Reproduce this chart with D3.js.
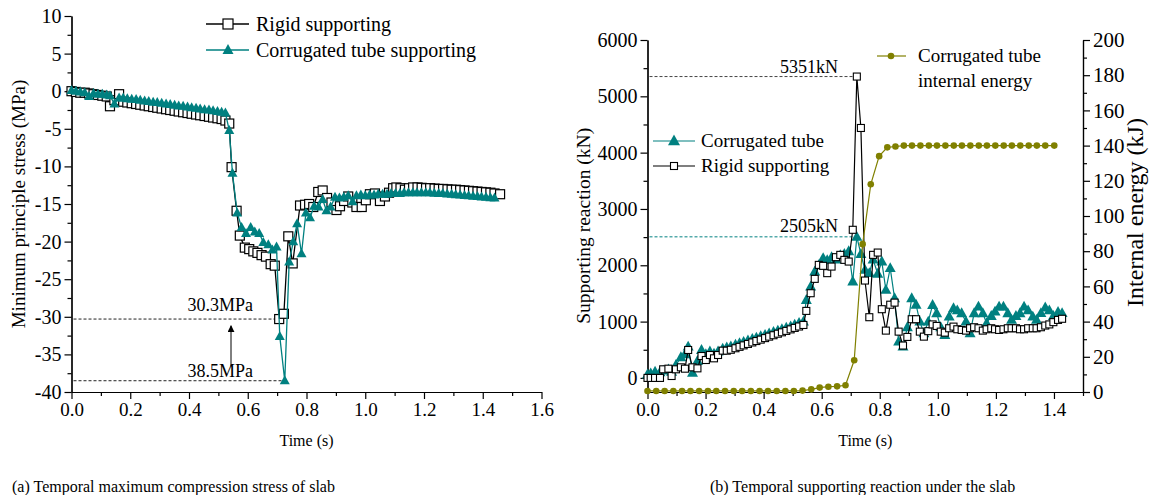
<!DOCTYPE html>
<html>
<head>
<meta charset="utf-8">
<script src="https://cdn.jsdelivr.net/npm/d3@7"></script>
<style>
  html, body { margin: 0; padding: 0; background: #fff; }
  svg { display: block; font-family: "Liberation Serif", "Times New Roman", serif; }
</style>
</head>
<body>
<svg id="chart" width="1150" height="495"></svg>
<script>
// ---------- (a) minimum principal stress of the slab (MPa) ----------
const stressRigidTime = [0, 0.015, 0.03, 0.045, 0.06, 0.075, 0.09, 0.105, 0.12, 0.131, 0.146, 0.162, 0.176, 0.19, 0.205, 0.22, 0.234, 0.249, 0.263, 0.278, 0.292, 0.307, 0.322, 0.336, 0.351, 0.365, 0.38, 0.395, 0.409, 0.424, 0.438, 0.453, 0.468, 0.482, 0.497, 0.511, 0.524, 0.537, 0.545, 0.562, 0.573, 0.59, 0.605, 0.619, 0.633, 0.647, 0.662, 0.678, 0.692, 0.707, 0.723, 0.738, 0.753, 0.778, 0.795, 0.809, 0.823, 0.84, 0.855, 0.87, 0.885, 0.902, 0.914, 0.928, 0.942, 0.956, 0.97, 0.988, 1.002, 1.016, 1.033, 1.05, 1.067, 1.081, 1.095, 1.106, 1.12, 1.135, 1.149, 1.163, 1.178, 1.192, 1.207, 1.221, 1.236, 1.25, 1.265, 1.28, 1.294, 1.309, 1.323, 1.338, 1.353, 1.367, 1.382, 1.396, 1.411, 1.426, 1.44, 1.459];
const stressRigid = [0.0, -0.1, -0.2, -0.2, -0.3, -0.4, -0.5, -0.6, -0.7, -2.0, -1.2, -0.4, -1.4, -1.5, -1.6, -1.7, -1.8, -1.9, -2.0, -2.1, -2.2, -2.3, -2.4, -2.5, -2.6, -2.7, -2.8, -2.9, -3.0, -3.1, -3.2, -3.3, -3.4, -3.5, -3.6, -3.7, -3.9, -4.3, -10.1, -15.9, -19.2, -20.8, -21.0, -21.3, -21.5, -21.8, -22.0, -23.0, -23.2, -30.3, -29.6, -19.3, -22.9, -15.2, -15.1, -15.0, -15.4, -13.4, -13.2, -14.2, -14.8, -15.8, -15.3, -14.6, -14.0, -14.8, -15.4, -15.4, -14.5, -13.7, -13.6, -14.6, -14.0, -13.5, -12.9, -12.8, -12.9, -13.1, -12.9, -12.8, -12.8, -12.85, -12.9, -12.9, -12.95, -13.0, -13.0, -13.05, -13.1, -13.1, -13.15, -13.2, -13.25, -13.3, -13.35, -13.4, -13.45, -13.5, -13.6, -13.7];

const stressTubeTime = [0, 0.015, 0.03, 0.045, 0.06, 0.075, 0.09, 0.105, 0.12, 0.131, 0.146, 0.162, 0.176, 0.19, 0.205, 0.22, 0.234, 0.249, 0.263, 0.278, 0.292, 0.307, 0.322, 0.336, 0.351, 0.365, 0.38, 0.395, 0.409, 0.424, 0.438, 0.453, 0.468, 0.482, 0.497, 0.511, 0.524, 0.537, 0.548, 0.564, 0.579, 0.594, 0.61, 0.624, 0.639, 0.653, 0.67, 0.684, 0.698, 0.709, 0.726, 0.741, 0.755, 0.768, 0.783, 0.798, 0.812, 0.826, 0.841, 0.855, 0.868, 0.882, 0.897, 0.912, 0.927, 0.942, 0.957, 0.97, 0.985, 1.0, 1.015, 1.03, 1.044, 1.059, 1.074, 1.088, 1.103, 1.118, 1.132, 1.147, 1.162, 1.176, 1.191, 1.206, 1.22, 1.235, 1.25, 1.264, 1.279, 1.294, 1.308, 1.323, 1.338, 1.352, 1.367, 1.382, 1.396, 1.411, 1.426, 1.44];
const stressTube = [0.1, 0.0, -0.1, -0.2, -0.7, -0.3, -0.4, -0.4, -0.5, -0.6, -1.7, -0.9, -0.9, -1.0, -1.05, -1.1, -1.2, -1.3, -1.35, -1.45, -1.5, -1.6, -1.7, -1.75, -1.85, -1.95, -2.0, -2.1, -2.2, -2.25, -2.35, -2.45, -2.5, -2.6, -2.7, -2.8, -2.9, -5.2, -10.9, -16.2, -18.1, -18.9, -18.1, -18.7, -18.9, -20.1, -20.4, -21.1, -20.7, -32.6, -38.5, -22.7, -20.0, -17.6, -21.6, -16.2, -16.8, -15.3, -15.4, -14.4, -15.9, -15.4, -14.1, -14.2, -14.1, -13.9, -14.7, -13.9, -13.8, -13.9, -13.8, -13.8, -13.7, -13.7, -13.7, -13.6, -13.6, -13.6, -13.5, -13.5, -13.5, -13.5, -13.5, -13.5, -13.5, -13.55, -13.6, -13.6, -13.65, -13.7, -13.75, -13.8, -13.85, -13.9, -13.95, -14.0, -14.05, -14.1, -14.15, -14.2];

const stressTicks = [-40, -35, -30, -25, -20, -15, -10, -5, 0, 5, 10];
const timeTicksA = [0, 0.2, 0.4, 0.6, 0.8, 1.0, 1.2, 1.4, 1.6];

// ---------- (b) supporting reaction (kN) and tube internal energy (kJ) ----------
const reactionTime = [0, 0.011, 0.026, 0.043, 0.054, 0.072, 0.083, 0.098, 0.115, 0.129, 0.14, 0.155, 0.172, 0.186, 0.201, 0.215, 0.229, 0.243, 0.259, 0.273, 0.287, 0.303, 0.317, 0.331, 0.346, 0.361, 0.375, 0.39, 0.405, 0.419, 0.434, 0.449, 0.463, 0.478, 0.493, 0.507, 0.522, 0.537, 0.547, 0.562, 0.576, 0.59, 0.605, 0.619, 0.634, 0.649, 0.664, 0.678, 0.693, 0.707, 0.721, 0.735, 0.749, 0.764, 0.777, 0.793, 0.807, 0.821, 0.836, 0.851, 0.865, 0.88, 0.895, 0.91, 0.925, 0.938, 0.952, 0.967, 0.982, 0.996, 1.01, 1.024, 1.039, 1.054, 1.067, 1.082, 1.097, 1.111, 1.125, 1.14, 1.155, 1.168, 1.184, 1.197, 1.211, 1.226, 1.241, 1.254, 1.269, 1.283, 1.297, 1.311, 1.327, 1.34, 1.355, 1.37, 1.384, 1.398, 1.414, 1.428];
const reactionRigid = [0, 0, 0, 0, 153, 164, 34, 153, 188, 164, 496, 188, 170, 389, 318, 407, 348, 407, 484, 484, 500, 527, 552, 578, 603, 630, 655, 680, 707, 733, 758, 785, 810, 835, 862, 888, 913, 940, 1190, 1504, 1759, 2007, 1990, 1860, 1977, 2144, 2185, 2096, 2066, 2630, 5351, 4438, 1729, 1078, 2185, 2226, 1220, 840, 1300, 1337, 822, 575, 728, 1042, 1042, 822, 733, 830, 950, 923, 822, 804, 882, 911, 864, 852, 840, 882, 900, 882, 840, 864, 882, 864, 852, 864, 882, 882, 882, 864, 864, 882, 882, 882, 900, 930, 950, 990, 1030, 1050];
const reactionTube = [60, 80, 110, 100, 130, 150, 110, 230, 366, 420, 555, 93, 300, 496, 420, 470, 430, 470, 520, 540, 560, 590, 615, 640, 665, 690, 715, 740, 765, 790, 815, 840, 865, 890, 915, 945, 975, 1000, 1385, 1622, 1888, 2000, 2127, 2090, 2144, 2100, 2180, 2200, 2250, 1711, 2505, 2200, 1919, 1860, 2100, 1850, 2066, 1563, 1949, 1415, 644, 555, 900, 1415, 1300, 1000, 793, 1000, 1296, 1148, 900, 763, 1089, 1237, 1200, 1148, 999, 793, 1148, 1266, 1148, 971, 1100, 1177, 1266, 1266, 1148, 1030, 1100, 1148, 1266, 1200, 1089, 1030, 1150, 1250, 1200, 1100, 1170, 1150];

const energyTime = [0, 0.03, 0.059, 0.089, 0.119, 0.148, 0.178, 0.208, 0.237, 0.267, 0.297, 0.326, 0.356, 0.386, 0.415, 0.445, 0.475, 0.504, 0.534, 0.564, 0.593, 0.623, 0.653, 0.682, 0.712, 0.741, 0.769, 0.798, 0.826, 0.854, 0.883, 0.911, 0.94, 0.969, 0.997, 1.026, 1.055, 1.083, 1.112, 1.141, 1.169, 1.198, 1.227, 1.255, 1.284, 1.313, 1.341, 1.37, 1.401];
const energyTube = [0.6, 0.6, 0.6, 0.6, 0.6, 0.6, 0.6, 0.6, 0.6, 0.6, 0.6, 0.6, 0.6, 0.6, 0.6, 0.6, 0.6, 0.6, 0.8, 1.5, 2.5, 3.0, 3.2, 3.8, 18, 84, 118, 134, 139, 139.5, 140, 140, 140, 140, 140, 140, 140, 140, 140, 140, 140, 140, 140, 140, 140, 140, 140, 140, 140];

const reactionTicks = [0, 1000, 2000, 3000, 4000, 5000, 6000];
const energyTicks = [0, 20, 40, 60, 80, 100, 120, 140, 160, 180, 200];
const timeTicksB = [0, 0.2, 0.4, 0.6, 0.8, 1.0, 1.2, 1.4];

const rigidPeak = 5351;   // kN
const tubePeak = 2505;    // kN
const rigidMinStress = -30.3;  // MPa
const tubeMinStress = -38.5;   // MPa

const TEAL = "#008080";
const OLIVE = "#808000";
const INK = "#000";

const svg = d3.select("#chart");
svg.append("rect").attr("width", 1150).attr("height", 495).attr("fill", "#fff");

const plain = d => String(d);
const oneDec = d3.format(".1f");

function trianglePath(w) {
  const h = w * 0.9;
  return `M0,${-h * 0.6}L${w / 2},${h * 0.4}L${-w / 2},${h * 0.4}Z`;
}

function styleAxis(g, fontSize) {
  g.attr("font-family", '"Liberation Serif", "Times New Roman", serif');
  g.select(".domain").attr("stroke", INK).attr("stroke-width", 1.2);
  g.selectAll(".tick line").attr("stroke", INK).attr("stroke-width", 1.2);
  g.selectAll(".tick text").attr("fill", INK).attr("font-size", fontSize);
}

function minorAxis(axisFn, scale, values, size) {
  return axisFn(scale).tickValues(values).tickSize(size).tickFormat("").tickSizeOuter(0);
}

// =====================================================================
// Panel (a)
// =====================================================================
const xA = d3.scaleLinear().domain([0, 1.6]).range([71.5, 541.5]);
const yA = d3.scaleLinear().domain([-40, 10]).range([392, 16]);

const gA = svg.append("g");

// axes
const yAminor = d3.range(-37.5, 10, 5);
gA.append("g").attr("transform", `translate(${xA(0)},0)`)
  .call(minorAxis(d3.axisLeft, yA, yAminor, 4)).call(g => styleAxis(g, 20));
gA.append("g").attr("transform", `translate(${xA(0)},0)`)
  .call(d3.axisLeft(yA).tickValues(stressTicks).tickFormat(plain).tickSize(7).tickPadding(3).tickSizeOuter(0))
  .call(g => styleAxis(g, 20));

const xAminor = d3.range(0.1, 1.6, 0.2);
gA.append("g").attr("transform", `translate(0,${yA(-40)})`)
  .call(minorAxis(d3.axisBottom, xA, xAminor, 4)).call(g => styleAxis(g, 19));
gA.append("g").attr("transform", `translate(0,${yA(-40)})`)
  .call(d3.axisBottom(xA).tickValues(timeTicksA).tickFormat(oneDec).tickSize(7).tickPadding(4).tickSizeOuter(0))
  .call(g => styleAxis(g, 19));

gA.append("text").attr("x", xA(0.8)).attr("y", 446).attr("text-anchor", "middle")
  .attr("font-size", 16).text("Time (s)");
gA.append("text").attr("transform", `translate(25,${yA(-15)}) rotate(-90)`)
  .attr("text-anchor", "middle").attr("font-size", 19).text("Minimum principle stress (MPa)");

// dashed guides for the two minima
const minRigidT = stressRigidTime[stressRigid.indexOf(rigidMinStress)];
const minTubeT = stressTubeTime[stressTube.indexOf(tubeMinStress)];
gA.append("line").attr("x1", xA(0) + 2).attr("x2", xA(minRigidT))
  .attr("y1", yA(rigidMinStress)).attr("y2", yA(rigidMinStress))
  .attr("stroke", "#222").attr("stroke-width", 1).attr("stroke-dasharray", "3,2");
gA.append("line").attr("x1", xA(0) + 2).attr("x2", xA(minTubeT))
  .attr("y1", yA(tubeMinStress)).attr("y2", yA(tubeMinStress))
  .attr("stroke", "#222").attr("stroke-width", 1).attr("stroke-dasharray", "3,2");

// series lines
const lineA = (times) => d3.line().x((d, i) => xA(times[i])).y(d => yA(d));
gA.append("path").datum(stressRigid).attr("d", lineA(stressRigidTime))
  .attr("fill", "none").attr("stroke", INK).attr("stroke-width", 1.3);
gA.append("g").selectAll("rect").data(stressRigid).join("rect")
  .attr("x", (d, i) => xA(stressRigidTime[i]) - 4.5).attr("y", d => yA(d) - 4.5)
  .attr("width", 9).attr("height", 9)
  .attr("fill", "#fff").attr("stroke", INK).attr("stroke-width", 1.2);

gA.append("path").datum(stressTube).attr("d", lineA(stressTubeTime))
  .attr("fill", "none").attr("stroke", TEAL).attr("stroke-width", 1.3);
gA.append("g").selectAll("path").data(stressTube).join("path")
  .attr("d", trianglePath(10))
  .attr("transform", (d, i) => `translate(${xA(stressTubeTime[i])},${yA(d)})`)
  .attr("fill", TEAL);

// annotation text and arrow
gA.append("text").attr("x", 253).attr("y", yA(-29.2)).attr("text-anchor", "end")
  .attr("font-size", 18).text(`${Math.abs(rigidMinStress).toFixed(1)}MPa`);
gA.append("text").attr("x", 253).attr("y", yA(-38.0)).attr("text-anchor", "end")
  .attr("font-size", 18).text(`${Math.abs(tubeMinStress).toFixed(1)}MPa`);
svg.append("defs").append("marker").attr("id", "arrowHead")
  .attr("viewBox", "0 0 10 10").attr("refX", 9).attr("refY", 5)
  .attr("markerWidth", 7).attr("markerHeight", 7).attr("orient", "auto")
  .append("path").attr("d", "M0,0L10,5L0,10Z").attr("fill", INK);
gA.append("line").attr("x1", xA(0.543)).attr("x2", xA(0.543))
  .attr("y1", yA(-36.6)).attr("y2", yA(-31.2))
  .attr("stroke", INK).attr("stroke-width", 1).attr("marker-end", "url(#arrowHead)");

// legend
const legA = gA.append("g");
legA.append("line").attr("x1", 206).attr("x2", 249).attr("y1", 24).attr("y2", 24)
  .attr("stroke", INK).attr("stroke-width", 1.3);
legA.append("rect").attr("x", 223).attr("y", 19).attr("width", 10).attr("height", 10)
  .attr("fill", "#fff").attr("stroke", INK).attr("stroke-width", 1.2);
legA.append("text").attr("x", 256).attr("y", 31).attr("font-size", 20).text("Rigid supporting");
legA.append("line").attr("x1", 206).attr("x2", 249).attr("y1", 50).attr("y2", 50)
  .attr("stroke", TEAL).attr("stroke-width", 1.3);
legA.append("path").attr("d", trianglePath(11)).attr("transform", "translate(228,50)").attr("fill", TEAL);
legA.append("text").attr("x", 256).attr("y", 57).attr("font-size", 20).text("Corrugated tube supporting");

svg.append("text").attr("x", 12).attr("y", 492).attr("font-size", 16)
  .text("(a) Temporal maximum compression stress of slab");

// =====================================================================
// Panel (b)
// =====================================================================
const xB = d3.scaleLinear().domain([0, 1.5]).range([647.5, 1083]);
const yB = d3.scaleLinear().domain([-250, 6000]).range([392, 40]);
const yE = d3.scaleLinear().domain([0, 200]).range([392, 40]);

const gB = svg.append("g");

gB.append("g").attr("transform", `translate(${xB(0)},0)`)
  .call(minorAxis(d3.axisLeft, yB, d3.range(500, 6000, 1000), 4)).call(g => styleAxis(g, 20));
gB.append("g").attr("transform", `translate(${xB(0)},0)`)
  .call(d3.axisLeft(yB).tickValues(reactionTicks).tickFormat(plain).tickSize(7).tickPadding(3).tickSizeOuter(0))
  .call(g => styleAxis(g, 20));

gB.append("g").attr("transform", `translate(${xB(1.5)},0)`)
  .call(minorAxis(d3.axisRight, yE, d3.range(10, 200, 20), 4)).call(g => styleAxis(g, 21));
gB.append("g").attr("transform", `translate(${xB(1.5)},0)`)
  .call(d3.axisRight(yE).tickValues(energyTicks).tickFormat(plain).tickSize(7).tickPadding(3).tickSizeOuter(0))
  .call(g => styleAxis(g, 21));

gB.append("g").attr("transform", `translate(0,392)`)
  .call(minorAxis(d3.axisBottom, xB, d3.range(0.1, 1.55, 0.2), 4)).call(g => styleAxis(g, 19));
gB.append("g").attr("transform", `translate(0,392)`)
  .call(d3.axisBottom(xB).tickValues(timeTicksB).tickFormat(oneDec).tickSize(7).tickPadding(4).tickSizeOuter(0))
  .call(g => styleAxis(g, 19));

gB.append("text").attr("x", xB(0.75)).attr("y", 446).attr("text-anchor", "middle")
  .attr("font-size", 16).text("Time (s)");
gB.append("text").attr("transform", `translate(590,${yB(2700)}) rotate(-90)`)
  .attr("text-anchor", "middle").attr("font-size", 19.5).text("Supporting reaction (kN)");
gB.append("text").attr("transform", `translate(1143,${yE(102)}) rotate(-90)`)
  .attr("text-anchor", "middle").attr("font-size", 24).text("Internal energy (kJ)");

// dashed guides to the peaks
const peakRigidT = reactionTime[reactionRigid.indexOf(rigidPeak)];
const peakTubeT = reactionTime[reactionTube.indexOf(tubePeak)];
gB.append("line").attr("x1", xB(0) + 2).attr("x2", xB(peakRigidT))
  .attr("y1", yB(rigidPeak)).attr("y2", yB(rigidPeak))
  .attr("stroke", "#444").attr("stroke-width", 1).attr("stroke-dasharray", "3,2");
gB.append("line").attr("x1", xB(0) + 2).attr("x2", xB(peakTubeT))
  .attr("y1", yB(tubePeak)).attr("y2", yB(tubePeak))
  .attr("stroke", TEAL).attr("stroke-width", 1).attr("stroke-dasharray", "3,2");
gB.append("text").attr("x", 838).attr("y", yB(rigidPeak) - 4).attr("text-anchor", "end")
  .attr("font-size", 18).text(`${rigidPeak}kN`);
gB.append("text").attr("x", 838).attr("y", yB(tubePeak) - 5).attr("text-anchor", "end")
  .attr("font-size", 18).text(`${tubePeak}kN`);

// corrugated tube reaction
const lineB = d3.line().x((d, i) => xB(reactionTime[i])).y(d => yB(d));
gB.append("path").datum(reactionTube).attr("d", lineB)
  .attr("fill", "none").attr("stroke", TEAL).attr("stroke-width", 1.2);
gB.append("g").selectAll("path").data(reactionTube).join("path")
  .attr("d", trianglePath(11))
  .attr("transform", (d, i) => `translate(${xB(reactionTime[i])},${yB(d)})`)
  .attr("fill", TEAL);

// rigid reaction
gB.append("path").datum(reactionRigid).attr("d", lineB)
  .attr("fill", "none").attr("stroke", INK).attr("stroke-width", 1.2);
gB.append("g").selectAll("rect").data(reactionRigid).join("rect")
  .attr("x", (d, i) => xB(reactionTime[i]) - 3.5).attr("y", d => yB(d) - 3.5)
  .attr("width", 7).attr("height", 7)
  .attr("fill", "#fff").attr("stroke", INK).attr("stroke-width", 1.1);

// internal energy on the right axis
const lineE = d3.line().x((d, i) => xB(energyTime[i])).y(d => yE(d));
gB.append("path").datum(energyTube).attr("d", lineE)
  .attr("fill", "none").attr("stroke", OLIVE).attr("stroke-width", 1.2);
gB.append("g").selectAll("circle").data(energyTube).join("circle")
  .attr("cx", (d, i) => xB(energyTime[i])).attr("cy", d => yE(d)).attr("r", 3.3)
  .attr("fill", OLIVE);

// legends
const legB = gB.append("g");
legB.append("line").attr("x1", 653).attr("x2", 695).attr("y1", 141).attr("y2", 141)
  .attr("stroke", TEAL).attr("stroke-width", 1.2);
legB.append("path").attr("d", trianglePath(12)).attr("transform", "translate(674,141)").attr("fill", TEAL);
legB.append("text").attr("x", 701).attr("y", 147).attr("font-size", 19).text("Corrugated tube");
legB.append("line").attr("x1", 653).attr("x2", 695).attr("y1", 166).attr("y2", 166)
  .attr("stroke", INK).attr("stroke-width", 1.2);
legB.append("rect").attr("x", 670.5).attr("y", 162.5).attr("width", 7).attr("height", 7)
  .attr("fill", "#fff").attr("stroke", INK).attr("stroke-width", 1.1);
legB.append("text").attr("x", 701).attr("y", 172).attr("font-size", 19).text("Rigid supporting");

legB.append("line").attr("x1", 877).attr("x2", 906).attr("y1", 56).attr("y2", 56)
  .attr("stroke", OLIVE).attr("stroke-width", 1.2);
legB.append("circle").attr("cx", 891).attr("cy", 56).attr("r", 3.3).attr("fill", OLIVE);
legB.append("text").attr("x", 918).attr("y", 62).attr("font-size", 19).text("Corrugated tube");
legB.append("text").attr("x", 918).attr("y", 87).attr("font-size", 19).text("internal energy");

svg.append("text").attr("x", 710).attr("y", 492).attr("font-size", 16)
  .text("(b) Temporal supporting reaction under the slab");
</script>
</body>
</html>
